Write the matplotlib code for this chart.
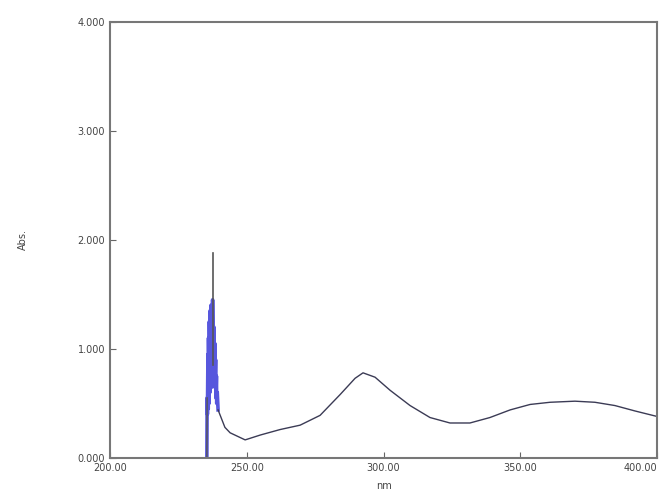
import matplotlib
matplotlib.use("Agg")
import matplotlib.pyplot as plt

# UV-Vis absorbance spectrum
noise_nm = [235.4, 235.5, 235.6, 235.8, 235.9, 236.0, 236.2, 236.3, 236.5, 236.6,
            236.8, 236.9, 237.1, 237.2, 237.4, 237.5, 237.8, 238.0, 238.1, 238.3,
            238.4, 238.6, 238.7, 238.9, 239.0, 239.2, 239.5]
noise_abs = [0.00, 0.55, 0.40, 0.95, 0.45, 1.10, 0.50, 1.25, 0.60, 1.35,
             0.70, 1.40, 0.75, 1.30, 0.65, 1.45, 0.80, 1.20, 0.70, 1.05,
             0.65, 0.90, 0.55, 0.75, 0.50, 0.60, 0.44]

spike_nm = [237.7, 237.7]
spike_abs = [0.85, 1.88]

curve_nm = [239.5, 242.0, 243.9, 249.4, 255.0, 262.2, 269.5, 276.8, 284.1, 289.6,
            292.5, 296.9, 302.4, 309.7, 317.0, 324.3, 331.6, 338.9, 346.3, 353.6,
            360.9, 370.0, 377.3, 384.6, 392.0, 400.0]
curve_abs = [0.44, 0.28, 0.23, 0.165, 0.21, 0.26, 0.30, 0.39, 0.58, 0.73,
             0.78, 0.74, 0.62, 0.48, 0.37, 0.32, 0.32, 0.37, 0.44, 0.49,
             0.51, 0.52, 0.51, 0.48, 0.43, 0.38]

x_ticks = [200, 250, 300, 350, 400]
x_labels = ["200.00", "250.00", "300.00", "350.00", "400.00"]
y_ticks = [0, 1, 2, 3, 4]
y_labels = ["0.000", "1.000", "2.000", "3.000", "4.000"]

fig = plt.figure(figsize=(6.67, 4.95), dpi=100)
ax = fig.add_axes([0.165, 0.075, 0.82, 0.881])

ax.plot(noise_nm, noise_abs, color="#3a3ad8", lw=2.6, alpha=0.85)
ax.plot(noise_nm[:2], noise_abs[:2], color="#555555", lw=1.0)
ax.plot(spike_nm, spike_abs, color="#555555", lw=1.2)
ax.plot(curve_nm, curve_abs, color="#3b3b55", lw=1.0)

ax.set_xlim(200, 400)
ax.set_ylim(0, 4)
ax.set_xticks(x_ticks)
ax.set_xticklabels(x_labels)
ax.set_yticks(y_ticks)
ax.set_yticklabels(y_labels)
ax.tick_params(direction="in", length=4, color="#666666", labelsize=7,
               labelcolor="#444444")
ax.get_xticklabels()[-1].set_horizontalalignment("right")
for s in ax.spines.values():
    s.set_color("#777777")
    s.set_linewidth(1.5)

ax.set_ylabel("Abs.", fontsize=7, color="#444444", labelpad=36)
ax.set_xlabel("nm", fontsize=7, color="#444444", labelpad=6)

fig.savefig("out.png", dpi=100)
plt.close(fig)
